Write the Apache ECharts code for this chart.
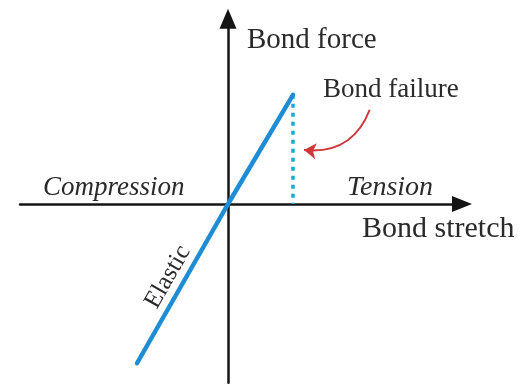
<!DOCTYPE html>
<html>
<head>
<meta charset="utf-8">
<script src="https://cdn.jsdelivr.net/npm/echarts@6/dist/echarts.min.js"></script>
<style>
html,body{margin:0;padding:0;background:#fff;}
#chart{width:525px;height:384px;}
</style>
</head>
<body>
<div id="chart"></div>
<script>
// Elastic bond force vs. bond stretch (schematic)
var stretch = [-1.4, 0, 1.0];
var force = [-2.45, 0, 1.68];
var failureStretch = [1.0, 1.0];
var failureForce = [1.68, 0];
var arrowFrom = [2.18, 1.45];
var arrowTo = [1.17, 0.83];
var labels = {
  yName: 'Bond force',
  xName: 'Bond stretch',
  failure: 'Bond failure',
  compression: 'Compression',
  tension: 'Tension',
  elastic: 'Elastic'
};

var serif = '"Liberation Serif", "DejaVu Serif", serif';
var txtColor = '#2a2a2a';

var chart = echarts.init(document.getElementById('chart'));
chart.setOption({
  animation: false,
  backgroundColor: '#fff',
  grid: { left: 20, right: 63, top: 18.75, bottom: 1.25, containLabel: false },
  xAxis: {
    type: 'value', min: -3.2, max: 3.6,
    axisLine: { onZero: true, symbol: ['none', 'triangle'], symbolSize: [16, 20],
      lineStyle: { color: '#151515', width: 2.5 } },
    axisTick: { show: false }, axisLabel: { show: false }, splitLine: { show: false }
  },
  yAxis: {
    type: 'value', min: -2.75, max: 2.85,
    axisLine: { onZero: true, symbol: ['none', 'triangle'], symbolSize: [17, 20],
      lineStyle: { color: '#151515', width: 2.5 } },
    axisTick: { show: false }, axisLabel: { show: false }, splitLine: { show: false }
  },
  series: [
    {
      type: 'line', name: 'Elastic',
      data: stretch.map(function (s, i) { return [s, force[i]]; }),
      showSymbol: false, symbol: 'none',
      lineStyle: { color: '#1f8dd6', width: 4.5, cap: 'round' },
      z: 3
    },
    {
      type: 'line', name: 'Failure',
      data: failureStretch.map(function (s, i) { return [s, failureForce[i]]; }),
      showSymbol: false, symbol: 'none',
      lineStyle: { color: '#1ba6d4', width: 3.5, type: [4, 5] },
      z: 2
    },
    {
      type: 'lines', coordinateSystem: 'cartesian2d',
      data: [{ coords: [arrowFrom, arrowTo] }],
      symbol: ['none', 'arrow'], symbolSize: 12,
      lineStyle: { color: '#d0353b', width: 2, curveness: 0.38, opacity: 1 },
      z: 4
    }
  ],
  graphic: [
    { type: 'text', x: 247, y: 40, style: { text: labels.yName, font: '29px ' + serif, fill: txtColor, verticalAlign: 'middle' } },
    { type: 'text', x: 323, y: 90, style: { text: labels.failure, font: '27px ' + serif, fill: txtColor, verticalAlign: 'middle' } },
    { type: 'text', x: 43, y: 188, style: { text: labels.compression, font: 'italic 27px ' + serif, fill: txtColor, verticalAlign: 'middle' } },
    { type: 'text', x: 347, y: 188, style: { text: labels.tension, font: 'italic 28px ' + serif, fill: txtColor, verticalAlign: 'middle' } },
    { type: 'text', x: 362, y: 229, style: { text: labels.xName, font: '30px ' + serif, fill: txtColor, verticalAlign: 'middle' } },
    { type: 'text', x: 168, y: 277, rotation: 60.2 * Math.PI / 180,
      style: { text: labels.elastic, font: '25px ' + serif, fill: txtColor, align: 'center', verticalAlign: 'middle' } }
  ]
});
</script>
</body>
</html>
